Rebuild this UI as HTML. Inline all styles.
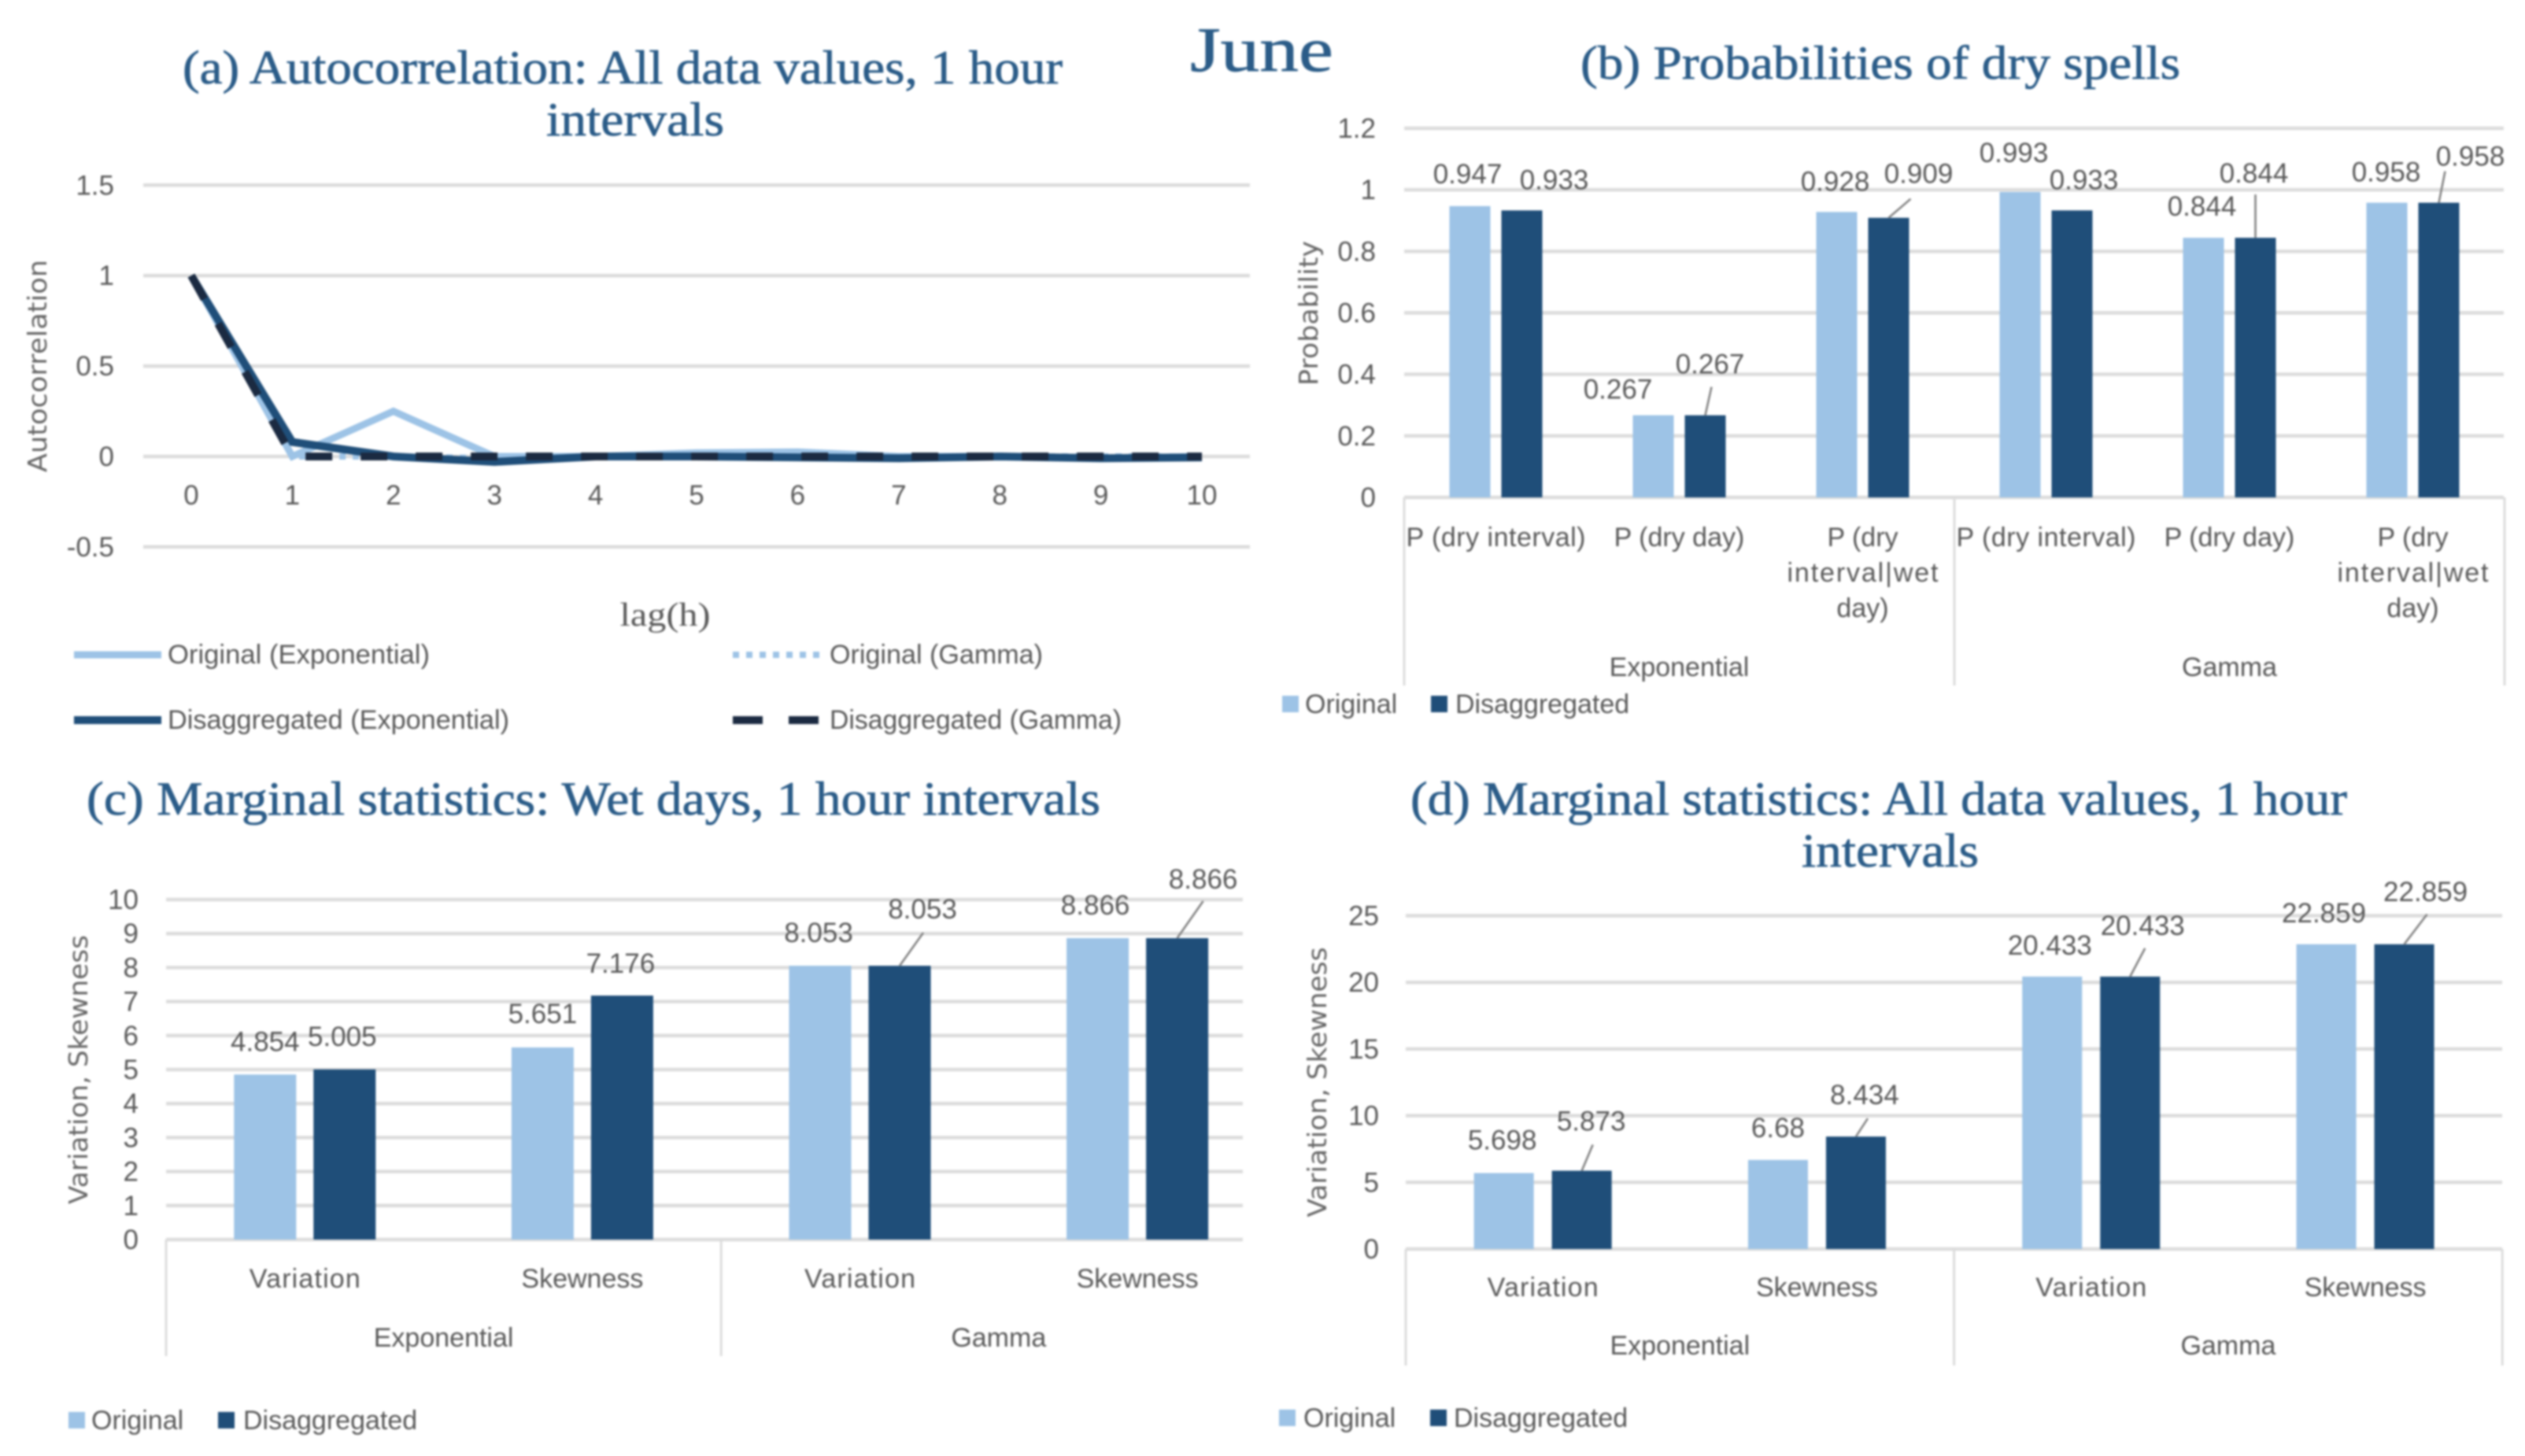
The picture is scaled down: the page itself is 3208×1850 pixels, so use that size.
<!DOCTYPE html>
<html lang="en">
<head>
<meta charset="utf-8">
<title>June: autocorrelation, dry spells and marginal statistics</title>
<style>
html,body{margin:0;padding:0;background:#fff;}
#chart-root{display:block;width:3208px;height:1850px;filter:blur(1.2px);}
text{font-family:"Liberation Sans",sans-serif;fill:#595959;font-size:34px;}
.title{font-family:"Liberation Serif",serif;fill:#2b5c88;font-size:60px;stroke:#2b5c88;stroke-width:0.7px;}
.num{font-size:35px;}
.axt{font-family:"DejaVu Sans",sans-serif;font-size:33px;fill:#666;}
</style>
</head>
<body>
<svg id="chart-root" xmlns="http://www.w3.org/2000/svg" width="3208" height="1850" viewBox="0 0 3208 1850">
<rect width="3208" height="1850" fill="#fff"/>
<text class="title" x="1512" y="90" textLength="182" lengthAdjust="spacingAndGlyphs" style="font-size:80px">June</text>
<text class="title" x="232" y="106" textLength="1118" lengthAdjust="spacingAndGlyphs">(a) Autocorrelation: All data values, 1 hour</text>
<text class="title" x="694" y="172" textLength="226" lengthAdjust="spacingAndGlyphs">intervals</text>
<text class="title" x="2008" y="100" textLength="762" lengthAdjust="spacingAndGlyphs">(b) Probabilities of dry spells</text>
<text class="title" x="110" y="1035" textLength="1288" lengthAdjust="spacingAndGlyphs">(c) Marginal statistics: Wet days, 1 hour intervals</text>
<text class="title" x="1792" y="1035" textLength="1190" lengthAdjust="spacingAndGlyphs">(d) Marginal statistics: All data values, 1 hour</text>
<text class="title" x="2289" y="1101" textLength="225" lengthAdjust="spacingAndGlyphs">intervals</text>
</svg>
<script>
// ---- Chart (a) data ----
const lagsA = ['0','1','2','3','4','5','6','7','8','9','10'];
const ticksA = ['-0.5','0','0.5','1','1.5'];
const originalExpA = [1, 0.0, 0.25, 0.0, 0.0, 0.02, 0.025, 0.0, 0.0, -0.01, 0.0];
const originalGammaA = [1, 0.0, 0.0, -0.01, 0.0, 0.0, 0.0, 0.0, 0.0, 0.0, 0.0];
const disaggExpA = [1, 0.08, 0.0, -0.03, 0.0, 0.0, -0.005, -0.01, 0.0, -0.01, -0.005];
const disaggGammaA = [1, 0.0, 0.0, 0.0, 0.0, 0.0, 0.0, 0.0, 0.0, 0.0, 0.0];
// ---- Chart (b) data ----
const categoriesB = ['P (dry interval)','P (dry day)','P (dry\ninterval|wet\nday)','P (dry interval)','P (dry day)','P (dry\ninterval|wet\nday)'];
const groupsB = ['Exponential','Gamma'];
const ticksB = ['0','0.2','0.4','0.6','0.8','1','1.2'];
const originalB = [0.947, 0.267, 0.928, 0.993, 0.844, 0.958];
const disaggB = [0.933, 0.267, 0.909, 0.933, 0.844, 0.958];
// ---- Chart (c) data ----
const categoriesC = ['Variation','Skewness','Variation','Skewness'];
const groupsC = ['Exponential','Gamma'];
const ticksC = ['0','1','2','3','4','5','6','7','8','9','10'];
const originalC = [4.854, 5.651, 8.053, 8.866];
const disaggC = [5.005, 7.176, 8.053, 8.866];
// ---- Chart (d) data ----
const categoriesD = ['Variation','Skewness','Variation','Skewness'];
const groupsD = ['Exponential','Gamma'];
const ticksD = ['0','5','10','15','20','25'];
const originalD = [5.698, 6.68, 20.433, 22.859];
const disaggD = [5.873, 8.434, 20.433, 22.859];

const NS = 'http://www.w3.org/2000/svg';
const root = document.getElementById('chart-root');
const LIGHT = '#9dc3e6', DARK = '#1f4e79', INK = '#1b2a41', GRID = '#dcdcdc';
const lineFit = {'P (dry interval)': 228, 'interval|wet': 192, 'Variation': 141};

function make(tag, attrs, parent, content) {
  const el = document.createElementNS(NS, tag);
  for (const k in attrs) el.setAttribute(k, attrs[k]);
  if (content !== undefined) el.textContent = content;
  parent.appendChild(el);
  return el;
}

function yAxis(g, prefix, ticks, yOf, left, right, labelRight) {
  ticks.forEach(function (t) {
    const y = yOf(Number(t));
    const line = make('line', {x1: left, x2: right, y1: y, y2: y, stroke: GRID, 'stroke-width': 4.5}, g);
    
    
    const lab = make('text', {x: labelRight, y: y + 12, 'text-anchor': 'end', class: 'num'}, g, t);
    
    
  });
}

function axisTitle(g, prefix, text, cx, cy, len) {
  const el = make('text', {x: cx + 11, y: cy, 'text-anchor': 'middle', class: 'axt', textLength: len, lengthAdjust: 'spacingAndGlyphs', transform: 'rotate(-90 ' + (cx + 11) + ' ' + cy + ')'}, g, text);
  
  
}

function drawBars(cfg) {
  const g = make('g', {}, root);
  
  
  const max = Number(cfg.ticks[cfg.ticks.length - 1]);
  const yOf = function (v) { return cfg.base - v / max * (cfg.base - cfg.top); };
  const step = cfg.step;
  const xOf = function (i) { return cfg.left + step * (i + 0.5); };
  yAxis(g, cfg.id, cfg.ticks, yOf, cfg.left, cfg.right, cfg.tickRight);
  axisTitle(g, cfg.id, cfg.axisTitle, cfg.axisX, cfg.axisY, cfg.axisLen);

  const perGroup = cfg.categories.length / cfg.groups.length;
  for (let k = 0; k <= cfg.groups.length; k++) {
    const x = cfg.left + k * perGroup * step;
    if (x > cfg.right + 4) continue;
    const div = make('line', {x1: x, x2: x, y1: cfg.base, y2: cfg.groupBottom, stroke: GRID, 'stroke-width': 3}, g);
    
    
  }
  cfg.groups.forEach(function (name, k) {
    const x = cfg.left + (k + 0.5) * perGroup * step;
    const el = make('text', {x: x, y: cfg.groupY, 'text-anchor': 'middle'}, g, name);
    
    
  });
  cfg.categories.forEach(function (name, i) {
    name.split('\n').forEach(function (line, n) {
      const el = make('text', {x: xOf(i), y: cfg.catY + n * cfg.catLead, 'text-anchor': 'middle'}, g, line);
      
      
      if (lineFit[line]) el.setAttribute('textLength', lineFit[line]);
    });
  });

  [cfg.original, cfg.disagg].forEach(function (values, s) {
    const sign = s === 0 ? -1 : 1;
    values.forEach(function (v, i) {
      const cx = xOf(i) + sign * cfg.sep;
      const top = yOf(v);
      const bar = make('rect', {x: cx - cfg.barW / 2, y: top, width: cfg.barW, height: cfg.base - top, fill: s === 0 ? LIGHT : DARK}, g);
      
      
      const off = cfg.labelLayout[s][i];
      const lab = make('text', {x: cx + off[0], y: top + off[1], 'text-anchor': 'middle', class: 'num'}, g, String(v));
      
      
      if (off.length > 2) {
        const lead = make('line', {x1: cx + off[2], y1: top + off[3], x2: cx, y2: top, stroke: '#7f7f7f', 'stroke-width': 2.5}, g);
        
        
      }
    });
  });

  cfg.legend.forEach(function (e, n) {
    const sw = make('rect', {x: e[0], y: cfg.legendY, width: 21, height: 21, fill: n === 0 ? LIGHT : DARK}, g);
    
    
    const tx = make('text', {x: e[1], y: cfg.legendY + 22}, g, n === 0 ? 'Original' : 'Disaggregated');
    
    
  });
}

function drawLines() {
  const g = make('g', {}, root);
  
  
  const yOf = function (v) { return 580 - v * 229.8; };
  const xOf = function (i) { return 243 + i * (1527 - 243) / (lagsA.length - 1); };
  yAxis(g, 'a', ticksA, yOf, 182, 1588, 145);
  axisTitle(g, 'a', 'Autocorrelation', 48, 465, 270);
  lagsA.forEach(function (t, i) {
    const el = make('text', {x: xOf(i), y: 641, 'text-anchor': 'middle', class: 'num'}, g, t);
    
    
  });
  const xt = make('text', {x: 845, y: 795, 'text-anchor': 'middle', textLength: 115, lengthAdjust: 'spacingAndGlyphs', style: 'font-family:"Liberation Serif",serif;font-size:42px'}, g, 'lag(h)');
  
  

  const styles = [
    {name: 'Original (Exponential)', data: originalExpA, stroke: LIGHT, width: 9, dash: '', sx: 94, ty: 832, fit: 333},
    {name: 'Original (Gamma)', data: originalGammaA, stroke: LIGHT, width: 8, dash: '8 9', sx: 931, ty: 832, fit: 271},
    {name: 'Disaggregated (Exponential)', data: disaggExpA, stroke: DARK, width: 10, dash: '', sx: 94, ty: 915, fit: 434},
    {name: 'Disaggregated (Gamma)', data: disaggGammaA, stroke: INK, width: 10, dash: '34 36', sx: 931, ty: 915, fit: 371}
  ];
  styles.forEach(function (s) {
    const key = s.name.toLowerCase().replace(/[()]/g, '').replace(/ /g, '-');
    const pts = s.data.map(function (v, i) { return xOf(i) + ',' + yOf(v); }).join(' ');
    const line = make('polyline', {points: pts, fill: 'none', stroke: s.stroke, 'stroke-width': s.width, 'stroke-dasharray': s.dash, 'stroke-linejoin': 'miter'}, g);
    
    
    const sw = make('line', {x1: s.sx, x2: s.sx + 111, y1: s.ty, y2: s.ty, stroke: s.stroke, 'stroke-width': s.width, 'stroke-dasharray': s.dash === '34 36' ? '38 33' : s.dash}, g);
    
    
    const tx = make('text', {x: s.sx + (s.sx < 500 ? 119 : 123), y: s.ty + 11, textLength: s.fit, lengthAdjust: 'spacingAndGlyphs'}, g, s.name);
    
    
  });
}

drawLines();

drawBars({
  id: 'b', categories: categoriesB, groups: groupsB, ticks: ticksB, original: originalB, disagg: disaggB,
  left: 1784, right: 3181, step: 233, base: 632, top: 163, sep: 33, barW: 52,
  tickRight: 1748, axisTitle: 'Probability', axisX: 1663, axisY: 398, axisLen: 184,
  catY: 694, catLead: 45, groupY: 859, groupBottom: 871,
  legendY: 884, legend: [[1629, 1658], [1818, 1849]],
  labelLayout: [
    [[-3,-29],[-45,-21],[-2,-27],[-8,-38],[-2,-28],[-1,-27]],
    [[41,-27],[6,-53,8,-36],[38,-44,28,-24],[15,-27],[-2,-70,0,-55],[40,-47,8,-40]]
  ]
});

drawBars({
  id: 'c', categories: categoriesC, groups: groupsC, ticks: ticksC, original: originalC, disagg: disaggC,
  left: 211, right: 1579, step: 352.6, base: 1575, top: 1143, sep: 50.5, barW: 79,
  tickRight: 176, axisTitle: 'Variation, Skewness', axisX: 100, axisY: 1359, axisLen: 342,
  catY: 1636, catLead: 45, groupY: 1711, groupBottom: 1723,
  legendY: 1794, legend: [[87, 116], [277, 309]],
  labelLayout: [
    [[0,-30],[0,-31],[-2,-30],[-3,-30]],
    [[-3,-30],[-2,-29],[29,-60,30,-42],[33,-63,33,-47]]
  ]
});

drawBars({
  id: 'd', categories: categoriesD, groups: groupsD, ticks: ticksD, original: originalD, disagg: disaggD,
  left: 1786, right: 3179, step: 348.3, base: 1587, top: 1163.5, sep: 49.5, barW: 76,
  tickRight: 1752, axisTitle: 'Variation, Skewness', axisX: 1674, axisY: 1375, axisLen: 343,
  catY: 1647, catLead: 45, groupY: 1721, groupBottom: 1735,
  legendY: 1791, legend: [[1625, 1656], [1817, 1847]],
  labelLayout: [
    [[-2,-30],[0,-29],[-3,-28],[-3,-28]],
    [[12,-51,14,-33],[11,-41,15,-23],[16,-53,19,-36],[27,-55,29,-38]]
  ]
});
</script>
</body>
</html>
